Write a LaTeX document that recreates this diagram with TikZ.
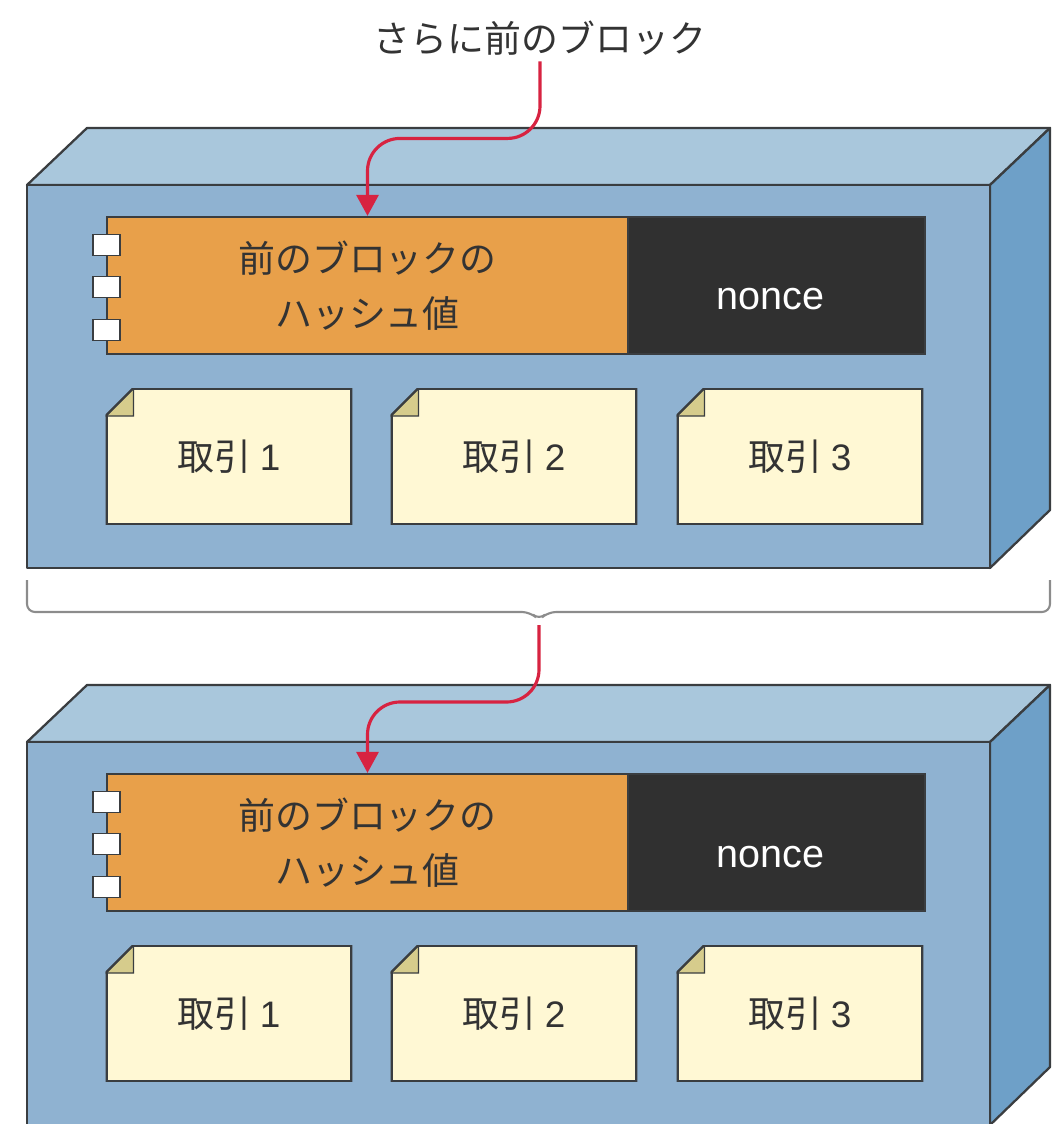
\documentclass[tikz,border=0pt]{standalone}
\usepackage{fontspec}
\setmainfont{Noto Sans CJK JP}
\newfontfamily\latinfont{Liberation Sans}
\usetikzlibrary{arrows.meta}
\definecolor{edgegray}{HTML}{3A3D40}
\definecolor{textgray}{HTML}{333333}
\definecolor{frontface}{HTML}{8FB2D1}
\definecolor{topface}{HTML}{A9C7DC}
\definecolor{sideface}{HTML}{6EA0C8}
\definecolor{hashorange}{HTML}{E8A04A}
\definecolor{noncegray}{HTML}{303030}
\definecolor{txyellow}{HTML}{FFF8D4}
\definecolor{txfold}{HTML}{D6CC8C}
\definecolor{linkred}{HTML}{D72341}
\definecolor{bracegray}{HTML}{8C8C8C}
\begin{document}
\begin{tikzpicture}[x=0.02cm, y=-0.02cm,
    font=\fontsize{21}{31}\selectfont,
    face/.style={draw=edgegray, line width=1.3pt, line join=round},
    hash/.style={fill=hashorange, draw=edgegray, line width=1.3pt, minimum width=10.42cm,
      minimum height=2.74cm, align=center, text=textgray},
    nonce/.style={fill=noncegray, draw=edgegray, line width=1.3pt, minimum width=5.94cm,
      minimum height=2.74cm, text height=0.98cm, text depth=0pt, text=white,
      font=\fontsize{22.5}{30}\latinfont},
    port/.style={fill=white, draw=edgegray, line width=1pt, minimum width=0.54cm,
      minimum height=0.42cm, inner sep=0pt},
    tx/.style={fill=txyellow, minimum width=4.94cm, minimum height=2.74cm, text=textgray,
      path picture={
        \coordinate (nw) at (path picture bounding box.north west);
        \coordinate (se) at (path picture bounding box.south east);
        \fill[frontface] (nw) -- ([xshift=0.56cm]nw) -- ([yshift=-0.56cm]nw) -- cycle;
        \filldraw[fill=txfold, draw=edgegray, line width=0.8pt] ([yshift=-0.56cm]nw)
          -- ([xshift=0.56cm]nw) -- ([shift={(0.56cm,-0.56cm)}]nw) -- cycle;
        \draw[edgegray, line width=2.6pt, line join=round] ([xshift=0.56cm]nw) -| (se)
          -| ([yshift=-0.56cm]nw);
        \draw[edgegray, line width=1.3pt] ([yshift=-0.56cm]nw) -- ([xshift=0.56cm]nw);}},
    link/.style={draw=linkred, line width=1.8pt, rounded corners=0.65cm,
      -{Triangle[width=0.44cm, length=0.42cm]}},
    brace/.style={draw=bracegray, line width=1.2pt, rounded corners=0.16cm}]
   \useasboundingbox (0,0) rectangle (1063,1124);

   % upper block
   \filldraw[face, fill=topface] (27,185) -- (87,128) -- (1050,128) -- (990,185) -- cycle;
   \filldraw[face, fill=sideface] (990,185) -- (1050,128) -- (1050,510) -- (990,568) -- cycle;
   \filldraw[face, fill=frontface] (27,185) rectangle (990,568);
   \node[hash] (hash1) at (367.5,285.5) {前のブロックの\\ハッシュ値};
   \node[nonce] (nonce1) at (776.5,285.5) {nonce\hspace*{0.24cm}};
   \node[port] (p11) at (106.5,245) {};
   \node[port] (p12) at (106.5,287) {};
   \node[port] (p13) at (106.5,330) {};
   \node[tx] (tx11) at (229,456.5) {取引 {\latinfont 1}};
   \node[tx] (tx12) at (514,456.5) {取引 {\latinfont 2}};
   \node[tx] (tx13) at (800,456.5) {取引 {\latinfont 3}};

   % lower block
   \filldraw[face, fill=topface] (27,742) -- (87,685) -- (1050,685) -- (990,742) -- cycle;
   \filldraw[face, fill=sideface] (990,742) -- (1050,685) -- (1050,1067) -- (990,1125) -- cycle;
   \filldraw[face, fill=frontface] (27,742) rectangle (990,1125);
   \node[hash] (hash2) at (367.5,842.5) {前のブロックの\\ハッシュ値};
   \node[nonce] (nonce2) at (776.5,842.5) {nonce\hspace*{0.24cm}};
   \node[port] (p21) at (106.5,802) {};
   \node[port] (p22) at (106.5,844) {};
   \node[port] (p23) at (106.5,887) {};
   \node[tx] (tx21) at (229,1013.5) {取引 {\latinfont 1}};
   \node[tx] (tx22) at (514,1013.5) {取引 {\latinfont 2}};
   \node[tx] (tx23) at (800,1013.5) {取引 {\latinfont 3}};

   % links
   \node[text=textgray] (title) at (540,38) {さらに前のブロック};
   \coordinate (tip) at (539,620);
   \draw[brace] (27,580) -- (27,612) -- (530,612) -- (tip) -- (548,612) -- (1050,612) -- (1050,580);
   \draw[link] (title.south) -- ++(0,77) -| (hash1.north);
   \draw[link] ([yshift=-0.1cm]tip) -- ++(0,77) -| (hash2.north);
\end{tikzpicture}
\end{document}
